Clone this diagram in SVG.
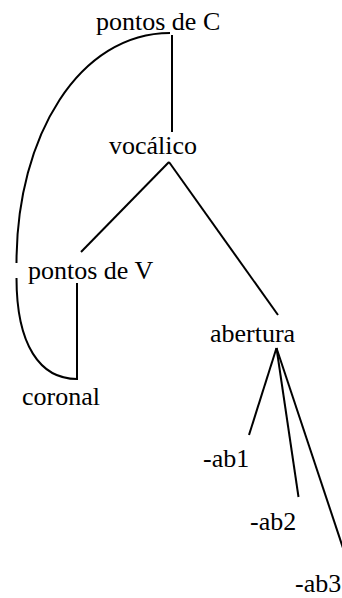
<svg xmlns="http://www.w3.org/2000/svg" width="342" height="598" viewBox="0 0 342 598">
<style>
.t{font-size:26px;fill:#000}
.e{stroke:#000;stroke-width:2;fill:none}
</style>
<rect width="342" height="598" fill="#fff"/>
<g id="connectors">
<line class="e" x1="172" y1="35" x2="172" y2="132"/>
<path class="e" d="M170,33 C80,33 16.5,135 16.5,263"/>
<path class="e" d="M16.5,278 C16.5,345 40,379 77,379"/>
<line class="e" x1="169" y1="162" x2="81" y2="252"/>
<line class="e" x1="169" y1="162" x2="278" y2="315"/>
<line class="e" x1="77" y1="283" x2="77" y2="380"/>
<line class="e" x1="276.5" y1="348" x2="249" y2="435"/>
<line class="e" x1="276.5" y1="348" x2="298.5" y2="497"/>
<line class="e" x1="276.5" y1="348" x2="345" y2="554"/>
</g>
<g font-family="'Liberation Serif', 'Times New Roman', 'DejaVu Serif', serif" class="t">
<g id="pontosC"><text x="96" y="30">pontos de C</text></g>
<g id="vocalico"><text x="109" y="154">vocálico</text></g>
<g id="pontosV"><text x="28" y="279">pontos de V</text></g>
<g id="abertura"><text x="210" y="342">abertura</text></g>
<g id="coronal"><text x="22" y="405">coronal</text></g>
<g id="ab1"><text x="203" y="467">-ab1</text></g>
<g id="ab2"><text x="250" y="530">-ab2</text></g>
<g id="ab3"><text x="295" y="592">-ab3</text></g>
</g>
</svg>
